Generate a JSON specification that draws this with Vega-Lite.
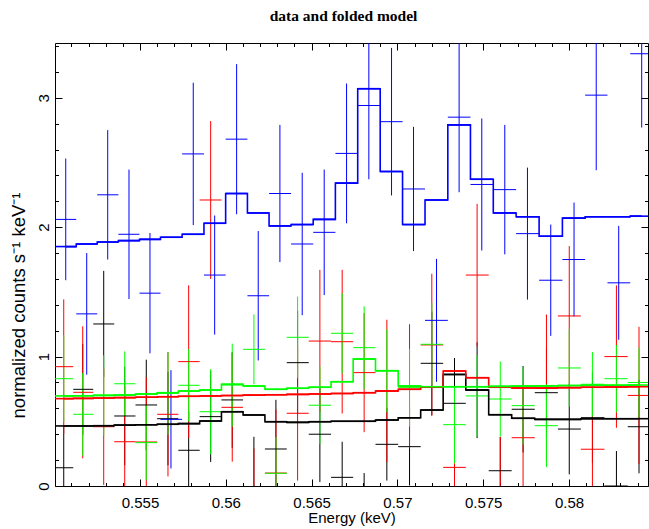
{
  "$schema": "https://vega.github.io/schema/vega-lite/v6.json",
  "width": 593,
  "height": 443,
  "autosize": "none",
  "padding": {"left": 55, "top": 43, "right": 1, "bottom": 43},
  "background": "white",
  "title": {"text": "data and folded model", "font": "Liberation Serif", "fontWeight": "bold", "fontSize": 15.5, "color": "#000000", "anchor": "middle", "dx": -8, "offset": 6, "baseline": "alphabetic"},
  "config": {
    "view": {"stroke": "#000000", "strokeWidth": 1},
    "axis": {"labelFont": "Liberation Sans", "labelFontSize": 15, "labelColor": "#000000", "titleFont": "Liberation Sans", "titleFontSize": 15, "titleFontWeight": "normal", "titleColor": "#000000", "tickColor": "#000000", "tickWidth": 1, "domain": false, "grid": false}
  },
  "datasets": {
    "d": [
      {"g":"1","e":0.550556,"lo":0.550002,"hi":0.551110,"y":0.141,"err":0.32,"m":0.464},
      {"g":"1","e":0.551663,"lo":0.551110,"hi":0.552275,"y":0.747,"err":0.35,"m":0.464},
      {"g":"1","e":0.552886,"lo":0.552275,"hi":0.553498,"y":1.252,"err":0.41,"m":0.466},
      {"g":"1","e":0.554109,"lo":0.553498,"hi":0.554738,"y":0.541,"err":0.38,"m":0.470},
      {"g":"1","e":0.555367,"lo":0.554738,"hi":0.555999,"y":0.626,"err":0.35,"m":0.473},
      {"g":"1","e":0.556631,"lo":0.555999,"hi":0.557234,"y":0.52,"err":0.36,"m":0.477},
      {"g":"1","e":0.557836,"lo":0.557234,"hi":0.558477,"y":0.276,"err":0.30,"m":0.482},
      {"g":"1","e":0.559118,"lo":0.558477,"hi":0.559747,"y":0.536,"err":0.35,"m":0.502},
      {"g":"1","e":0.560376,"lo":0.559747,"hi":0.561008,"y":0.665,"err":0.37,"m":0.574},
      {"g":"1","e":0.561639,"lo":0.561008,"hi":0.562280,"y":-0.02,"err":0.40,"m":0.549},
      {"g":"1","e":0.562921,"lo":0.562280,"hi":0.563553,"y":0.286,"err":0.38,"m":0.497},
      {"g":"1","e":0.564185,"lo":0.563553,"hi":0.564834,"y":0.953,"err":0.40,"m":0.492},
      {"g":"1","e":0.565483,"lo":0.564834,"hi":0.566133,"y":0.40,"err":0.37,"m":0.497},
      {"g":"1","e":0.566782,"lo":0.566133,"hi":0.567423,"y":0.067,"err":0.275,"m":0.50},
      {"g":"1","e":0.568063,"lo":0.567423,"hi":0.568725,"y":-0.2,"err":0.30,"m":0.50},
      {"g":"1","e":0.569386,"lo":0.568725,"hi":0.570047,"y":0.322,"err":0.28,"m":0.51},
      {"g":"1","e":0.570708,"lo":0.570047,"hi":0.571357,"y":0.304,"err":0.30,"m":0.527},
      {"g":"1","e":0.572006,"lo":0.571357,"hi":0.572667,"y":0.948,"err":0.40,"m":0.587},
      {"g":"1","e":0.573328,"lo":0.572667,"hi":0.573987,"y":0.639,"err":0.35,"m":0.862},
      {"g":"1","e":0.574645,"lo":0.573987,"hi":0.575321,"y":0.74,"err":0.37,"m":0.742},
      {"g":"1","e":0.575996,"lo":0.575321,"hi":0.576660,"y":0.118,"err":0.26,"m":0.551},
      {"g":"1","e":0.577324,"lo":0.576660,"hi":0.578006,"y":0.593,"err":0.334,"m":0.523},
      {"g":"1","e":0.578687,"lo":0.578006,"hi":0.579351,"y":0.721,"err":0.35,"m":0.515},
      {"g":"1","e":0.580015,"lo":0.579351,"hi":0.580691,"y":0.44,"err":0.35,"m":0.515},
      {"g":"1","e":0.581366,"lo":0.580691,"hi":0.582065,"y":0.528,"err":0.35,"m":0.52},
      {"g":"1","e":0.582764,"lo":0.582065,"hi":0.583422,"y":0.0,"err":0.27,"m":0.52},
      {"g":"1","e":0.584080,"lo":0.583422,"hi":0.584738,"y":0.458,"err":0.36,"m":0.52},
      {"g":"2","e":0.550556,"lo":0.550002,"hi":0.551110,"y":0.922,"err":0.52,"m":0.675},
      {"g":"2","e":0.551663,"lo":0.551110,"hi":0.552275,"y":0.724,"err":0.51,"m":0.677},
      {"g":"2","e":0.552886,"lo":0.552275,"hi":0.553498,"y":0.458,"err":0.45,"m":0.68},
      {"g":"2","e":0.554109,"lo":0.553498,"hi":0.554738,"y":0.342,"err":0.43,"m":0.683},
      {"g":"2","e":0.555367,"lo":0.554738,"hi":0.555999,"y":0.34,"err":0.50,"m":0.686},
      {"g":"2","e":0.556631,"lo":0.555999,"hi":0.557234,"y":0.554,"err":0.48,"m":0.69},
      {"g":"2","e":0.557836,"lo":0.557234,"hi":0.558477,"y":0.961,"err":0.59,"m":0.693},
      {"g":"2","e":0.559118,"lo":0.558477,"hi":0.559747,"y":2.21,"err":0.61,"m":0.696},
      {"g":"2","e":0.560376,"lo":0.559747,"hi":0.561008,"y":0.608,"err":0.42,"m":0.699},
      {"g":"2","e":0.561639,"lo":0.561008,"hi":0.562280,"y":-0.1,"err":0.39,"m":0.702},
      {"g":"2","e":0.562921,"lo":0.562280,"hi":0.563553,"y":0.10,"err":0.49,"m":0.705},
      {"g":"2","e":0.564185,"lo":0.563553,"hi":0.564834,"y":0.562,"err":0.52,"m":0.708},
      {"g":"2","e":0.565483,"lo":0.564834,"hi":0.566133,"y":1.12,"err":0.55,"m":0.711},
      {"g":"2","e":0.566782,"lo":0.566133,"hi":0.567423,"y":1.115,"err":0.555,"m":0.715},
      {"g":"2","e":0.568063,"lo":0.567423,"hi":0.568725,"y":0.876,"err":0.46,"m":0.721},
      {"g":"2","e":0.569386,"lo":0.568725,"hi":0.570047,"y":0.735,"err":0.55,"m":0.734},
      {"g":"2","e":0.570708,"lo":0.570047,"hi":0.571357,"y":0.77,"err":0.48,"m":0.747},
      {"g":"2","e":0.572006,"lo":0.571357,"hi":0.572667,"y":1.09,"err":0.55,"m":0.763},
      {"g":"2","e":0.573328,"lo":0.572667,"hi":0.573987,"y":0.144,"err":0.50,"m":0.889},
      {"g":"2","e":0.574645,"lo":0.573987,"hi":0.575321,"y":1.63,"err":0.55,"m":0.837},
      {"g":"2","e":0.575996,"lo":0.575321,"hi":0.576660,"y":-0.1,"err":0.48,"m":0.763},
      {"g":"2","e":0.577324,"lo":0.576660,"hi":0.578006,"y":0.373,"err":0.40,"m":0.757},
      {"g":"2","e":0.578687,"lo":0.578006,"hi":0.579351,"y":0.755,"err":0.57,"m":0.757},
      {"g":"2","e":0.580015,"lo":0.579351,"hi":0.580691,"y":1.314,"err":0.54,"m":0.76},
      {"g":"2","e":0.581366,"lo":0.580691,"hi":0.582065,"y":0.284,"err":0.50,"m":0.763},
      {"g":"2","e":0.582764,"lo":0.582065,"hi":0.583422,"y":1.0,"err":0.55,"m":0.765},
      {"g":"2","e":0.584080,"lo":0.583422,"hi":0.584738,"y":0.70,"err":0.53,"m":0.767},
      {"g":"3","e":0.550556,"lo":0.550002,"hi":0.551110,"y":0.829,"err":0.335,"m":0.696},
      {"g":"3","e":0.551663,"lo":0.551110,"hi":0.552275,"y":0.554,"err":0.32,"m":0.697},
      {"g":"3","e":0.552886,"lo":0.552275,"hi":0.553498,"y":0.70,"err":0.31,"m":0.70},
      {"g":"3","e":0.554109,"lo":0.553498,"hi":0.554738,"y":0.79,"err":0.25,"m":0.703},
      {"g":"3","e":0.555367,"lo":0.554738,"hi":0.555999,"y":0.335,"err":0.29,"m":0.711},
      {"g":"3","e":0.556631,"lo":0.555999,"hi":0.557234,"y":0.716,"err":0.32,"m":0.721},
      {"g":"3","e":0.557836,"lo":0.557234,"hi":0.558477,"y":0.778,"err":0.28,"m":0.734},
      {"g":"3","e":0.559118,"lo":0.558477,"hi":0.559747,"y":0.574,"err":0.33,"m":0.742},
      {"g":"3","e":0.560376,"lo":0.559747,"hi":0.561008,"y":0.78,"err":0.32,"m":0.786},
      {"g":"3","e":0.561639,"lo":0.561008,"hi":0.562280,"y":1.056,"err":0.27,"m":0.773},
      {"g":"3","e":0.562921,"lo":0.562280,"hi":0.563553,"y":0.098,"err":0.28,"m":0.747},
      {"g":"3","e":0.564185,"lo":0.563553,"hi":0.564834,"y":1.149,"err":0.315,"m":0.755},
      {"g":"3","e":0.565483,"lo":0.564834,"hi":0.566133,"y":0.624,"err":0.30,"m":0.763},
      {"g":"3","e":0.566782,"lo":0.566133,"hi":0.567423,"y":1.18,"err":0.31,"m":0.806},
      {"g":"3","e":0.568063,"lo":0.567423,"hi":0.568725,"y":1.069,"err":0.32,"m":0.981},
      {"g":"3","e":0.569386,"lo":0.568725,"hi":0.570047,"y":0.89,"err":0.32,"m":0.891},
      {"g":"3","e":0.570708,"lo":0.570047,"hi":0.571357,"y":0.76,"err":0.30,"m":0.773},
      {"g":"3","e":0.572006,"lo":0.571357,"hi":0.572667,"y":1.095,"err":0.32,"m":0.767},
      {"g":"3","e":0.573328,"lo":0.572667,"hi":0.573987,"y":0.474,"err":0.30,"m":0.767},
      {"g":"3","e":0.574645,"lo":0.573987,"hi":0.575321,"y":0.696,"err":0.316,"m":0.767},
      {"g":"3","e":0.575996,"lo":0.575321,"hi":0.576660,"y":0.672,"err":0.29,"m":0.77},
      {"g":"3","e":0.577324,"lo":0.576660,"hi":0.578006,"y":0.621,"err":0.30,"m":0.772},
      {"g":"3","e":0.578687,"lo":0.578006,"hi":0.579351,"y":0.466,"err":0.32,"m":0.774},
      {"g":"3","e":0.580015,"lo":0.579351,"hi":0.580691,"y":0.912,"err":0.30,"m":0.776},
      {"g":"3","e":0.581366,"lo":0.580691,"hi":0.582065,"y":0.786,"err":0.25,"m":0.778},
      {"g":"3","e":0.582764,"lo":0.582065,"hi":0.583422,"y":0.829,"err":0.26,"m":0.779},
      {"g":"3","e":0.584080,"lo":0.583422,"hi":0.584738,"y":0.80,"err":0.27,"m":0.78},
      {"g":"4","e":0.550673,"lo":0.550062,"hi":0.551285,"y":2.06,"err":0.47,"m":1.85},
      {"g":"4","e":0.551896,"lo":0.551285,"hi":0.552508,"y":1.33,"err":0.47,"m":1.87},
      {"g":"4","e":0.553119,"lo":0.552508,"hi":0.553739,"y":2.25,"err":0.50,"m":1.885},
      {"g":"4","e":0.554359,"lo":0.553739,"hi":0.554971,"y":1.945,"err":0.50,"m":1.896},
      {"g":"4","e":0.555582,"lo":0.554971,"hi":0.556194,"y":1.49,"err":0.465,"m":1.906},
      {"g":"4","e":0.556805,"lo":0.556194,"hi":0.557455,"y":0.515,"err":0.38,"m":1.922},
      {"g":"4","e":0.558104,"lo":0.557455,"hi":0.558728,"y":2.566,"err":0.55,"m":1.945},
      {"g":"4","e":0.559351,"lo":0.558728,"hi":0.559992,"y":1.63,"err":0.46,"m":2.03},
      {"g":"4","e":0.560632,"lo":0.559992,"hi":0.561261,"y":2.68,"err":0.58,"m":2.26},
      {"g":"4","e":0.561890,"lo":0.561261,"hi":0.562522,"y":1.47,"err":0.50,"m":2.11},
      {"g":"4","e":0.563154,"lo":0.562522,"hi":0.563804,"y":2.26,"err":0.53,"m":2.01},
      {"g":"4","e":0.564453,"lo":0.563804,"hi":0.565094,"y":1.87,"err":0.55,"m":2.02},
      {"g":"4","e":0.565734,"lo":0.565094,"hi":0.566386,"y":1.96,"err":0.485,"m":2.06},
      {"g":"4","e":0.567038,"lo":0.566386,"hi":0.567688,"y":2.57,"err":0.54,"m":2.34},
      {"g":"4","e":0.568337,"lo":0.567688,"hi":0.568998,"y":2.94,"err":0.57,"m":3.07},
      {"g":"4","e":0.569659,"lo":0.568998,"hi":0.570300,"y":2.815,"err":0.57,"m":2.43},
      {"g":"4","e":0.570940,"lo":0.570300,"hi":0.571610,"y":2.295,"err":0.48,"m":2.02},
      {"g":"4","e":0.572280,"lo":0.571610,"hi":0.572939,"y":1.28,"err":0.475,"m":2.21},
      {"g":"4","e":0.573597,"lo":0.572939,"hi":0.574258,"y":2.85,"err":0.58,"m":2.79},
      {"g":"4","e":0.574918,"lo":0.574258,"hi":0.575588,"y":2.33,"err":0.51,"m":2.37},
      {"g":"4","e":0.576258,"lo":0.575588,"hi":0.576919,"y":2.29,"err":0.50,"m":2.11},
      {"g":"4","e":0.577580,"lo":0.576919,"hi":0.578259,"y":1.95,"err":0.51,"m":2.08},
      {"g":"4","e":0.578937,"lo":0.578259,"hi":0.579616,"y":1.59,"err":0.43,"m":1.93},
      {"g":"4","e":0.580294,"lo":0.579616,"hi":0.580941,"y":1.75,"err":0.44,"m":2.07},
      {"g":"4","e":0.581587,"lo":0.580941,"hi":0.582242,"y":3.02,"err":0.58,"m":2.08},
      {"g":"4","e":0.582897,"lo":0.582242,"hi":0.583567,"y":1.57,"err":0.44,"m":2.08},
      {"g":"4","e":0.584237,"lo":0.583567,"hi":0.584907,"y":3.34,"err":0.57,"m":2.085}
    ]
  },
  "data": {"name": "d"},
  "resolve": {"axis": {"x": "independent", "y": "independent"}},
  "layer": [
    {
      "mark": {"type": "errorbar", "clip": true, "thickness": 1},
      "encoding": {
        "x": {"field": "e", "type": "quantitative", "scale": {"domain": [0.550047, 0.584604], "nice": false, "zero": false},
              "axis": {"orient": "bottom", "values": [0.555, 0.56, 0.565, 0.57, 0.575, 0.58], "format": ".3~f", "tickSize": -7, "labelPadding": 16, "title": "Energy (keV)", "titlePadding": 0}},
        "y": {"field": "y", "type": "quantitative", "scale": {"domain": [0, 3.423], "nice": false, "zero": false},
              "axis": {"orient": "left", "values": [0, 1, 2, 3], "tickSize": -7, "labelAngle": -90, "labelPadding": 11, "title": "normalized counts s⁻¹ keV⁻¹", "titleFontSize": 18.5, "titleY": 262, "titlePadding": 8}},
        "yError": {"field": "err"},
        "color": {"field": "g", "type": "nominal", "scale": {"domain": ["1", "2", "3", "4"], "range": ["#000000", "#ff0000", "#00ff00", "#0000ff"]}, "legend": null}
      }
    },
    {
      "mark": {"type": "rule", "clip": true, "strokeWidth": 1},
      "encoding": {
        "x": {"field": "lo", "type": "quantitative", "axis": {"orient": "bottom", "values": [0.551,0.552,0.553,0.554,0.555,0.556,0.557,0.558,0.559,0.56,0.561,0.562,0.563,0.564,0.565,0.566,0.567,0.568,0.569,0.57,0.571,0.572,0.573,0.574,0.575,0.576,0.577,0.578,0.579,0.58,0.581,0.582,0.583,0.584], "tickSize": -3.5, "labels": false, "title": null}},
        "x2": {"field": "hi"},
        "y": {"field": "y", "type": "quantitative", "axis": {"orient": "left", "values": [0.2,0.4,0.6,0.8,1.2,1.4,1.6,1.8,2.2,2.4,2.6,2.8,3.2,3.4], "tickSize": -3.5, "labels": false, "title": null}},
        "color": {"field": "g", "type": "nominal", "legend": null}
      }
    },
    {
      "mark": {"type": "rule", "clip": true, "strokeWidth": 1.6},
      "encoding": {
        "x": {"field": "lo", "type": "quantitative", "axis": {"orient": "top", "values": [0.555, 0.56, 0.565, 0.57, 0.575, 0.58], "tickSize": -7, "labels": false, "title": null}},
        "x2": {"field": "hi"},
        "y": {"field": "m", "type": "quantitative", "axis": {"orient": "right", "values": [0, 1, 2, 3], "tickSize": -7, "labels": false, "title": null}},
        "color": {"field": "g", "type": "nominal", "legend": null}
      }
    },
    {
      "mark": {"type": "line", "clip": true, "interpolate": "step", "strokeWidth": 1.6},
      "encoding": {
        "x": {"field": "e", "type": "quantitative", "axis": {"orient": "top", "values": [0.551,0.552,0.553,0.554,0.556,0.557,0.558,0.559,0.561,0.562,0.563,0.564,0.566,0.567,0.568,0.569,0.571,0.572,0.573,0.574,0.576,0.577,0.578,0.579,0.581,0.582,0.583,0.584], "tickSize": -3.5, "labels": false, "title": null}},
        "y": {"field": "m", "type": "quantitative", "axis": {"orient": "right", "values": [0.2,0.4,0.6,0.8,1.2,1.4,1.6,1.8,2.2,2.4,2.6,2.8,3.2,3.4], "tickSize": -3.5, "labels": false, "title": null}},
        "color": {"field": "g", "type": "nominal", "legend": null}
      }
    }
  ]
}
